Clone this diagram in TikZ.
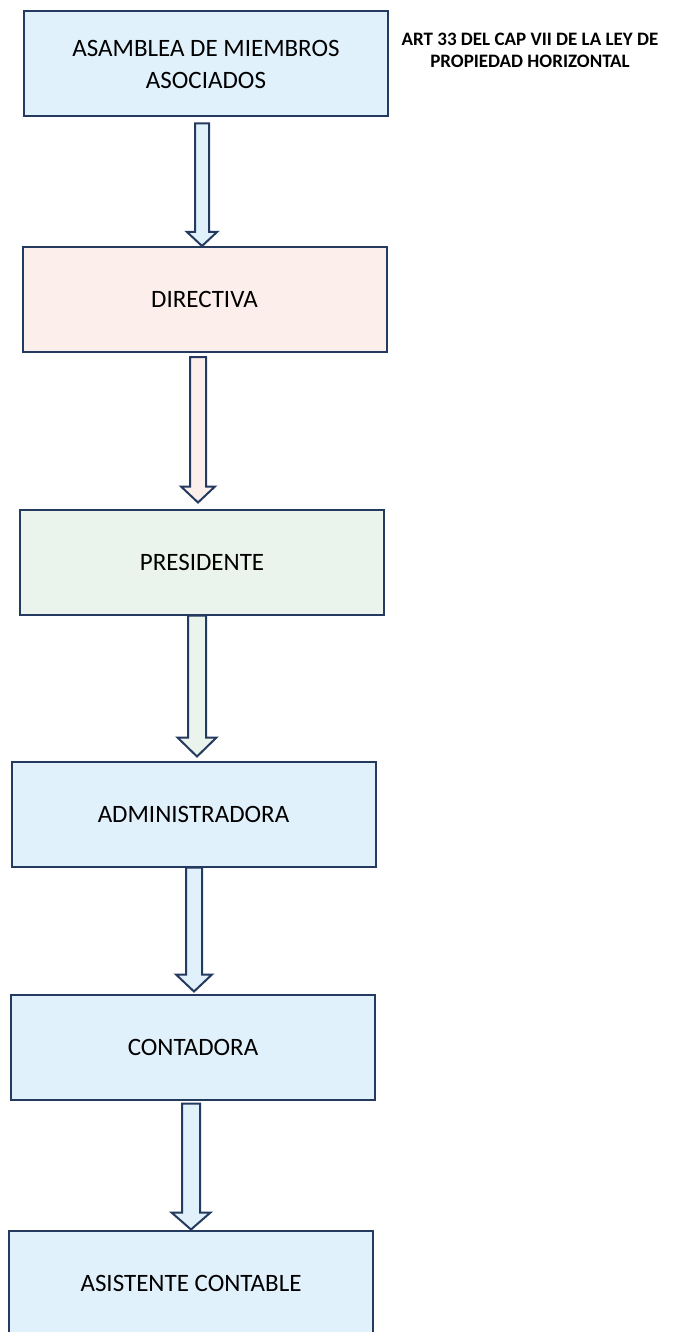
\documentclass[tikz,border=0pt]{standalone}
\usepackage{fontspec}
\setmainfont{Carlito}
\usetikzlibrary{calc}

\definecolor{edge}{HTML}{243A5E}
\definecolor{skyfill}{HTML}{E1F1FB}
\definecolor{rosefill}{HTML}{FCEEEB}
\definecolor{mintfill}{HTML}{EBF4EC}

\tikzset{
  orgbox/.style={draw=edge, line width=2pt, minimum width=364pt, minimum height=105pt,
    inner sep=0pt, align=center, font=\fontsize{25}{32}\selectfont},
  blockarrow/.style={draw=edge, line width=2pt, line join=miter},
}

% block arrow: from, to, x centre, shaft half width, head half width,
% gap below source, head length, gap above target, fill
\newcommand\blockarrow[9]{%
  \draw[blockarrow, fill=#9] let \p1=(#1.south), \p2=(#2.north) in
    ({#3pt-#4pt},{\y1-#6pt}) -- ({#3pt+#4pt},{\y1-#6pt})
    -- ({#3pt+#4pt},{\y2+#8pt+#7pt}) -- ({#3pt+#5pt},{\y2+#8pt+#7pt})
    -- ({#3pt},{\y2+#8pt})
    -- ({#3pt-#5pt},{\y2+#8pt+#7pt}) -- ({#3pt-#4pt},{\y2+#8pt+#7pt}) -- cycle;}

\begin{document}
\begin{tikzpicture}[x=1pt, y=-1pt]
  \fill[white] (0,0) rectangle (674,1332);
  \useasboundingbox (0,0) rectangle (674,1332);
  \clip (0,0) rectangle (674,1332);

  \node[orgbox, fill=skyfill]  (asamblea)  at (206,64)     {ASAMBLEA DE MIEMBROS\\ASOCIADOS};
  \node[orgbox, fill=rosefill] (directiva) at (204.5,299.5) {DIRECTIVA};
  \node[orgbox, fill=mintfill] (presidente) at (202,562)   {PRESIDENTE};
  \node[orgbox, fill=skyfill]  (admin)     at (193.5,814)  {ADMINISTRADORA};
  \node[orgbox, fill=skyfill]  (contadora) at (193,1047)   {CONTADORA};
  \node[orgbox, fill=skyfill]  (asistente) at (191,1283)   {ASISTENTE CONTABLE};

  \node[align=center, font=\fontsize{19}{22}\selectfont\bfseries] (nota) at (530,50)
    {ART 33 DEL CAP VII DE LA LEY DE\\PROPIEDAD HORIZONTAL};

  \blockarrow{asamblea}{directiva}{202}{7}{15}{6}{14}{0}{skyfill}
  \blockarrow{directiva}{presidente}{198}{8}{17}{4}{16}{6}{rosefill}
  \blockarrow{presidente}{admin}{197}{9}{19.5}{0}{19}{4}{mintfill}
  \blockarrow{admin}{contadora}{194}{8}{18}{0}{17}{2}{skyfill}
  \blockarrow{contadora}{asistente}{191}{9}{19.5}{3}{17}{0}{skyfill}
\end{tikzpicture}
\end{document}
